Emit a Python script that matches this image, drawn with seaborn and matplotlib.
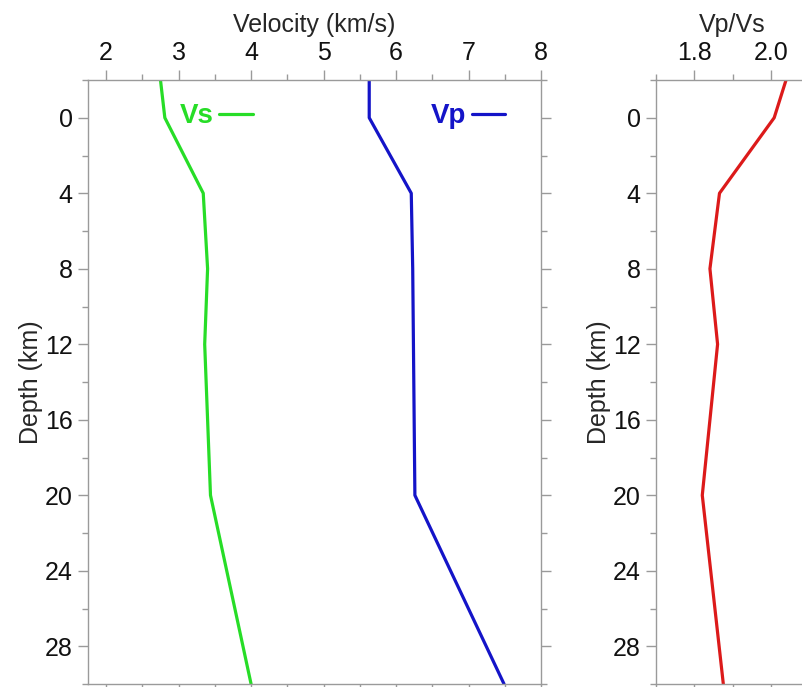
import numpy as np
import matplotlib
matplotlib.use("Agg")
import matplotlib.pyplot as plt
import seaborn as sns
from matplotlib.ticker import MultipleLocator

# depth nodes of the model (km) and velocities
depth = [-2, 0, 4, 8, 12, 20, 30]
vs = [2.75, 2.81, 3.34, 3.40, 3.36, 3.44, 4.00]
vp = [5.63, 5.63, 6.21, 6.23, 6.24, 6.26, 7.49]
vpvs = [2.04, 2.009, 1.866, 1.841, 1.861, 1.821, 1.876]

vel_ticks = [2, 3, 4, 5, 6, 7, 8]
ratio_ticks = [1.8, 2.0]
ratio_ticklabels = ["1.8", "2.0"]
depth_ticks = [0, 4, 8, 12, 16, 20, 24, 28]

GREEN = "#27dd27"
BLUE = "#1414c8"
RED = "#dc1a1a"
SPINE = "#9a9a9a"

sns.set_theme(style="white")
plt.rcParams["font.family"] = ["Liberation Sans", "DejaVu Sans"]

fig = plt.figure(figsize=(8.03, 6.87), dpi=100)
ax1 = fig.add_axes([88 / 803, 3 / 687, 453 / 803, 604 / 687])
ax2 = fig.add_axes([656 / 803, 3 / 687, 153 / 803, 604 / 687])


def style_axis(ax):
    for s in ax.spines.values():
        s.set_color(SPINE)
        s.set_linewidth(1.0)
    ax.tick_params(which="major", direction="out", length=7, width=1.0,
                   color=SPINE, labelsize=18, labelcolor="#111111",
                   top=True, bottom=True, left=True, right=True,
                   labeltop=True, labelbottom=False, labelleft=True,
                   labelright=False, pad=4)
    ax.tick_params(which="minor", direction="out", length=4, width=1.0,
                   color=SPINE, top=True, bottom=True, left=True, right=True)
    ax.xaxis.set_label_position("top")
    ax.set_ylim(30, -2)
    ax.set_yticks(depth_ticks)
    ax.yaxis.set_minor_locator(MultipleLocator(2))
    ax.set_ylabel("Depth (km)", fontsize=18, labelpad=1)


# velocity panel
sns.lineplot(x=vs, y=depth, orient="y", ax=ax1, color=GREEN, lw=2.3)
sns.lineplot(x=vp, y=depth, orient="y", ax=ax1, color=BLUE, lw=2.3)
ax1.set_xlim(1.75, 8.0)
ax1.set_xticks(vel_ticks)
ax1.xaxis.set_minor_locator(MultipleLocator(0.5))
ax1.set_xlabel("Velocity (km/s)", fontsize=18, labelpad=6)
style_axis(ax1)

vs_line = ax1.lines[0]
vp_line = ax1.lines[1]
leg_kw = dict(loc="center left", frameon=False, markerfirst=False,
              handlelength=1.2, handletextpad=0.2,
              prop={"weight": "bold", "size": 20})
leg_vs = ax1.legend([vs_line], ["Vs"], bbox_to_anchor=(0.148, 0.94), **leg_kw)
leg_vs.get_texts()[0].set_color(GREEN)
ax1.add_artist(leg_vs)
leg_vp = ax1.legend([vp_line], ["Vp"], bbox_to_anchor=(0.702, 0.94), **leg_kw)
leg_vp.get_texts()[0].set_color(BLUE)

# Vp/Vs panel
sns.lineplot(x=vpvs, y=depth, orient="y", ax=ax2, color=RED, lw=2.3)
ax2.set_xlim(1.7, 2.1)
ax2.set_xticks(ratio_ticks)
ax2.set_xticklabels(ratio_ticklabels)
ax2.xaxis.set_minor_locator(MultipleLocator(0.1))
ax2.set_xlabel("Vp/Vs", fontsize=18, labelpad=6)
style_axis(ax2)

fig.savefig("out.png", dpi=100, facecolor="white")
